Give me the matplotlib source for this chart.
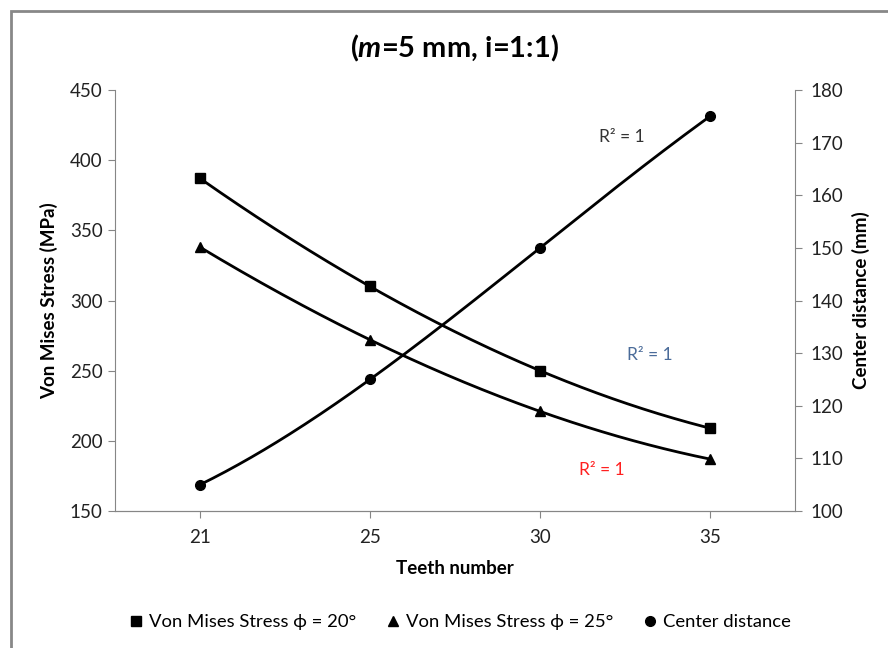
import numpy as np
import matplotlib.pyplot as plt
from matplotlib.patches import Rectangle

plt.rcParams['font.family'] = ['Lato', 'DejaVu Sans']
plt.rcParams['mathtext.fontset'] = 'custom'
plt.rcParams['mathtext.bfit'] = 'Lato:italic:bold'
plt.rcParams['mathtext.it'] = 'Lato:italic:bold'

# Data
teeth = ['21', '25', '30', '35']
stress_20 = [387, 310, 250, 209]
stress_25 = [338, 272, 221, 187]
center_dist = [105, 125, 150, 175]

x = np.arange(len(teeth))
xs = np.linspace(0, len(teeth) - 1, 200)

fig = plt.figure(figsize=(8.88, 6.48), dpi=100)
ax = fig.add_axes([115 / 888, 1 - 511 / 648, 680 / 888, 421 / 648])
ax2 = ax.twinx()

gray = '#868686'

# stress series (left axis) with cubic trendlines
for vals, mk in [(stress_20, 's'), (stress_25, '^')]:
    coef = np.polyfit(x, vals, 3)
    ax.plot(xs, np.polyval(coef, xs), color='black', lw=2)
    ax.plot(x, vals, linestyle='none', marker=mk, color='black', ms=7)

# center distance (right axis)
coef = np.polyfit(x, center_dist, 3)
ax2.plot(xs, np.polyval(coef, xs), color='black', lw=2)
ax2.plot(x, center_dist, linestyle='none', marker='o', color='black', ms=7)

ax.set_xlim(-0.5, len(teeth) - 0.5)
ax.set_ylim(150, 450)
ax2.set_ylim(100, 180)
ax.set_xticks(x)
ax.set_xticklabels(teeth)
ax.set_yticks(np.arange(150, 451, 50))
ax2.set_yticks(np.arange(100, 181, 10))

for a in (ax, ax2):
    for s in a.spines.values():
        s.set_color(gray)
    a.spines['top'].set_visible(False)
    a.tick_params(colors=gray, labelcolor='#222222', labelsize=13.5, length=5)
ax.spines['right'].set_visible(False)
ax2.spines['left'].set_visible(False)
ax.tick_params(axis='y', pad=4)
ax2.tick_params(axis='y', pad=6)
ax.tick_params(axis='x', pad=8)

ax.set_xlabel('Teeth number', fontsize=13.5, fontweight='bold', labelpad=10)
ax.set_ylabel('Von Mises Stress (MPa)', fontsize=13.5, fontweight='bold', labelpad=8)
ax2.set_ylabel('Center distance (mm)', fontsize=13.5, fontweight='bold', labelpad=6)

fig.text(455 / 888, 1 - 48 / 648, r'($\mathit{m}$=5 mm, i=1:1)', fontsize=21,
         fontweight='bold', ha='center', va='center')

# R² labels
fig.text(622 / 888, 1 - 137 / 648, 'R² = 1', fontsize=12.5, color='#333333', ha='center', va='center')
fig.text(650 / 888, 1 - 355 / 648, 'R² = 1', fontsize=12.5, color='#4A6B99', ha='center', va='center')
fig.text(602 / 888, 1 - 470 / 648, 'R² = 1', fontsize=12.5, color='#FF2020', ha='center', va='center')

# legend (markers only)
handles = [
    plt.Line2D([], [], linestyle='none', marker='s', color='black', ms=7),
    plt.Line2D([], [], linestyle='none', marker='^', color='black', ms=7),
    plt.Line2D([], [], linestyle='none', marker='o', color='black', ms=7),
]
labels = ['Von Mises Stress ϕ = 20°', 'Von Mises Stress ϕ = 25°', 'Center distance']
fig.legend(handles, labels, loc='center', bbox_to_anchor=(460 / 888, 1 - 622 / 648), ncol=3,
           frameon=False, fontsize=13.3, handlelength=0.8, handletextpad=0.3, columnspacing=1.6)

# chart border
fig.patches.append(Rectangle((11 / 888, -0.1), 1.2, 1 - 11 / 648 + 0.1, transform=fig.transFigure,
                             fill=False, edgecolor='#888888', lw=2))

fig.savefig('out.png', dpi=100)
